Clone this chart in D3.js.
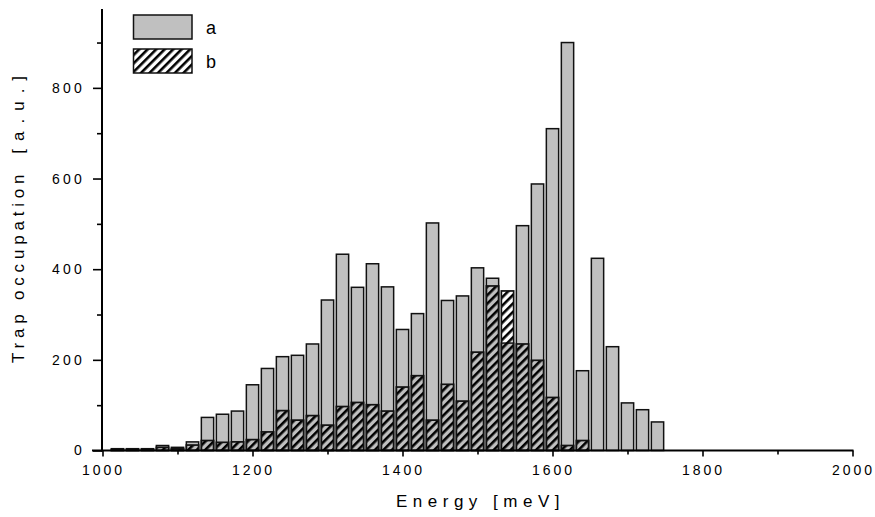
<!DOCTYPE html>
<html>
<head>
<meta charset="utf-8">
<script src="https://cdn.jsdelivr.net/npm/d3@7"></script>
<style>
  html, body { margin: 0; padding: 0; background: #fff; }
  svg { display: block; font-family: "Liberation Sans", Arial, Helvetica, sans-serif; }
</style>
</head>
<body>
<svg id="chart" width="875" height="517"></svg>
<script>
// ---- data ----
const energies = [1020,1040,1060,1080,1100,1120,1140,1160,1180,1200,1220,1240,1260,1280,1300,1320,1340,1360,1380,1400,1420,1440,1460,1480,1500,1520,1540,1560,1580,1600,1620,1640,1660,1680,1700,1720,1740];
const seriesA  = [4,4,4,11,7,19,73,80,87,145,181,207,210,235,332,433,360,412,361,267,302,502,331,341,403,380,237,496,588,710,900,176,424,229,105,90,63];
const seriesB  = [2,2,2,7,4,12,22,18,19,24,41,88,67,77,56,97,106,101,87,140,165,67,146,109,217,363,352,235,199,117,11,22,0,0,0,0,0];
const seriesNames = ["a", "b"];
const xMajorTicks = [1000,1200,1400,1600,1800,2000];
const xMinorTicks = [1100,1300,1500,1700,1900];
const yMajorTicks = [0,200,400,600,800];
const yMinorTicks = [100,300,500,700,900];
const xTitle = "Energy [meV]";
const yTitleMain = "Trap occupation";
const yTitleUnit = "[a.u.]";

// ---- layout ----
const svg = d3.select("#chart");
const x = d3.scaleLinear().domain([1000, 2000]).range([102.5, 852.5]);
const y = d3.scaleLinear().domain([0, 974]).range([450.5, 9]);
const step = x(1020) - x(1000);
const bw = step * 0.82;

const defs = svg.append("defs");
const pat = defs.append("pattern")
  .attr("id", "hatch")
  .attr("patternUnits", "userSpaceOnUse")
  .attr("width", 6).attr("height", 6)
  .attr("patternTransform", "rotate(45)");
pat.append("rect").attr("x", 0).attr("y", 0).attr("width", 2.6).attr("height", 6).attr("fill", "#000");

const gray = "#c0c0c0";
const edge = "#111";

// series a bars
svg.append("g").selectAll("rect")
  .data(energies.map((e, i) => ({e, v: seriesA[i]})))
  .join("rect")
  .attr("x", d => x(d.e) - bw / 2)
  .attr("width", bw)
  .attr("y", d => y(d.v))
  .attr("height", d => y(0) - y(d.v))
  .attr("fill", gray)
  .attr("stroke", edge)
  .attr("stroke-width", 1.5);

// series b bars (hatched, transparent background)
svg.append("g").selectAll("rect")
  .data(energies.map((e, i) => ({e, v: seriesB[i]})).filter(d => d.v > 0))
  .join("rect")
  .attr("x", d => x(d.e) - bw / 2)
  .attr("width", bw)
  .attr("y", d => y(d.v))
  .attr("height", d => y(0) - y(d.v))
  .attr("fill", "url(#hatch)")
  .attr("stroke", edge)
  .attr("stroke-width", 1.7);

// ---- axes ----
const gx = svg.append("g").attr("transform", `translate(0,${y(0)})`);
gx.call(d3.axisBottom(x).tickValues(xMajorTicks).tickSize(6).tickFormat(d3.format("d")));
gx.append("g").call(d3.axisBottom(x).tickValues(xMinorTicks).tickSize(4).tickFormat(""));
gx.selectAll(".domain").remove();
gx.append("line").attr("x1", 92).attr("x2", 853.5).attr("y1", 0).attr("y2", 0)
  .attr("stroke", "#000").attr("stroke-width", 2);
gx.selectAll(".tick line").attr("stroke", "#000").attr("stroke-width", 1.6);
gx.selectAll(".tick text")
  .attr("y", 24.5).attr("dy", null)
  .attr("dx", 0.5)
  .style("font-size", "14px").style("letter-spacing", "3px")
  .attr("fill", "#000");

const gy = svg.append("g").attr("transform", `translate(${x(1000) - 0.5},0)`);
gy.call(d3.axisLeft(y).tickValues(yMajorTicks).tickSize(9).tickFormat(d3.format("d")));
gy.append("g").call(d3.axisLeft(y).tickValues(yMinorTicks).tickSize(5).tickFormat(""));
gy.selectAll(".domain").remove();
gy.append("line").attr("x1", 0).attr("x2", 0).attr("y1", 9).attr("y2", y(0) + 1)
  .attr("stroke", "#000").attr("stroke-width", 2);
gy.selectAll(".tick line").attr("stroke", "#000").attr("stroke-width", 1.6);
gy.selectAll(".tick text")
  .attr("x", -17)
  .style("font-size", "14px").style("letter-spacing", "3.2px")
  .attr("fill", "#000");

// titles
svg.append("text")
  .attr("x", x(1500) + 3).attr("y", 507)
  .attr("text-anchor", "middle")
  .style("font-size", "17px").style("letter-spacing", "5.5px")
  .text(xTitle);

const yt = svg.append("text")
  .attr("transform", `translate(24,363) rotate(-90)`)
  .attr("text-anchor", "start")
  .style("font-size", "17px").style("letter-spacing", "4.8px");
yt.append("tspan").text(yTitleMain);
yt.append("tspan").attr("dx", 16).style("letter-spacing", "8px").text(yTitleUnit);

// ---- legend ----
const legend = svg.append("g");
const legendFills = [gray, "url(#hatch)"];
seriesNames.forEach((name, i) => {
  const ly = 15 + i * 34;
  legend.append("rect")
    .attr("x", 133.5).attr("y", ly).attr("width", 58.5).attr("height", 24)
    .attr("fill", legendFills[i]).attr("stroke", edge).attr("stroke-width", 1.5);
  legend.append("text")
    .attr("x", 206).attr("y", ly + 19)
    .style("font-size", "18px")
    .text(name);
});
</script>
</body>
</html>
